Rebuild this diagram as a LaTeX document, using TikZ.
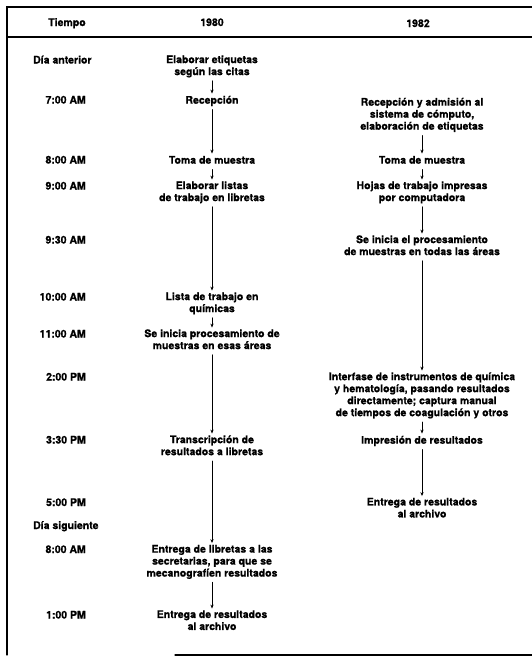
\documentclass[tikz,border=0pt]{standalone}
\usepackage{fontspec}
\setmainfont{TeX Gyre Heros}[BoldFeatures={FakeBold=0.8}]
\usetikzlibrary{arrows.meta}
\tikzset{
  hora/.style={anchor=base east,inner sep=0pt},
  dia/.style={anchor=base west,inner sep=0pt},
  paso/.style={anchor=north,inner sep=0pt,align=center,yshift=8.4pt,execute at begin node=\strut},
  flecha/.style={-{Stealth[length=4pt,width=3.2pt]},line width=.9pt,shorten <=2pt,shorten >=1.5pt},
  marco/.style={line width=1.1pt}
}
\begin{document}
\begin{tikzpicture}[x=1pt,y=-1pt,font=\bfseries\fontsize{10.5}{12}\selectfont,line cap=round]
\useasboundingbox (0,0) rectangle (532,662);
% marco de la tabla
\coordinate (TL) at (7,7); \coordinate (TR) at (532,7); \coordinate (HL) at (7,37); \coordinate (HR) at (532,37);
\coordinate (BL) at (7,655); \coordinate (BM) at (175,655); \coordinate (BR) at (532,655);
\draw[marco] (TR)--(TL)--(BL); \draw[marco] (HL)--(HR); \draw[marco] (BM)--(BR);
\node[anchor=base] (tiempo) at (67,26) {Tiempo}; \node[anchor=base] (a80) at (212,26) {1980}; \node[anchor=base] (a82) at (418,27) {1982};
% columna de horas
\node[dia] (dant) at (33,63.5) {Día anterior}; \node[dia] (dsig) at (33,529) {Día siguiente};
\foreach \n/\y/\t in {h1/103.5/7:00 AM,h2/163.5/8:00 AM,h3/189.5/9:00 AM,h4/243.5/9:30 AM,h5/300.5/10:00 AM,h6/337.5/11:00 AM,
  h7/380.5/2:00 PM,h8/443.5/3:30 PM,h9/506/5:00 PM,h10/553/8:00 AM,h11/618.5/1:00 PM}
  \node[hora] (\n) at (86,\y) {\t};
% 1980
\node[paso] (v1) at (212,63.5) {Elaborar etiquetas\\según las citas};
\node[paso] (v2) at (212,103.5) {Recepción};
\node[paso] (v3) at (212,163.5) {Toma de muestra};
\node[paso] (v4) at (212,189.5) {Elaborar listas\\de trabajo en libretas};
\node[paso] (v5) at (212,300.5) {Lista de trabajo en\\químicas};
\node[paso] (v6) at (212,337.5) {Se inicia procesamiento de\\muestras en esas áreas};
\node[paso] (v7) at (212,443.5) {Transcripción de\\resultados a libretas};
\node[paso] (v8) at (212,553) {Entrega de libretas a las\\secretarias, para que se\\mecanografíen resultados};
\node[paso] (v9) at (212,618.5) {Entrega de resultados\\al archivo};
\foreach \a/\b in {v1/v2,v2/v3,v3/v4,v4/v5,v5/v6,v6/v7,v7/v8,v8/v9} \draw[flecha] (\a.south)--(\b.north);
% 1982
\node[paso] (w1) at (422,106) {Recepción y admisión al\\sistema de cómputo,\\elaboración de etiquetas};
\node[paso] (w2) at (422,163.5) {Toma de muestra};
\node[paso] (w3) at (422,189.5) {Hojas de trabajo impresas\\por computadora};
\node[paso] (w4) at (422,243.5) {Se inicia el procesamiento\\de muestras en todas las áreas};
\node[paso] (w5) at (422,380.5) {Interfase de instrumentos de química\\y hematología, pasando resultados\\directamente; captura manual\\de tiempos de coagulación y otros};
\node[paso] (w6) at (422,443.5) {Impresión de resultados};
\node[paso] (w7) at (422,506) {Entrega de resultados\\al archivo};
\foreach \a/\b in {w1/w2,w2/w3,w3/w4,w4/w5,w5/w6,w6/w7} \draw[flecha] (\a.south)--(\b.north);
\end{tikzpicture}
\end{document}
